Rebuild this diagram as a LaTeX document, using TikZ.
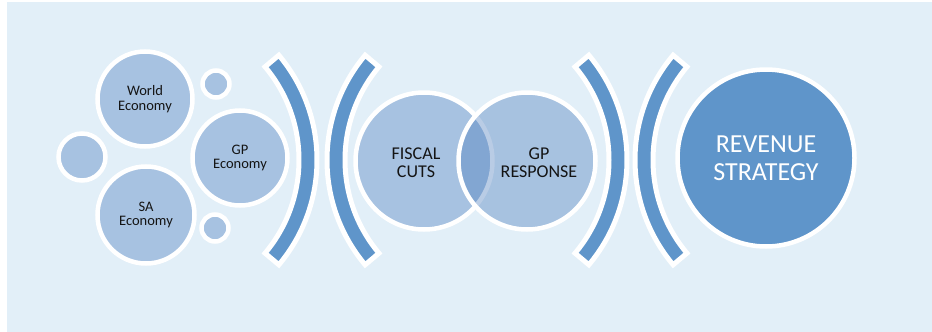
\documentclass[tikz,border=0pt]{standalone}
\usepackage{fontspec}
\setmainfont{Carlito}
\begin{document}
\definecolor{panelbg}{RGB}{226,239,248}
\definecolor{bubble}{RGB}{167,194,225}
\definecolor{bubbledeep}{RGB}{71,121,187}
\definecolor{accent}{RGB}{95,149,202}
\definecolor{ink}{RGB}{20,20,20}
\begin{tikzpicture}[x=1pt,y=-1pt,
  bub/.style={circle,fill=bubble,draw=white,line width=4.5pt,inner sep=0pt},
  bigbub/.style={circle,fill=accent,draw=white,line width=4.5pt,inner sep=0pt},
  small/.style={text=ink,align=center,font=\fontsize{14.5}{14.5}\selectfont},
  mid/.style={text=ink,align=center,font=\fontsize{18}{18}\selectfont},
  big/.style={text=white,align=center,font=\fontsize{26}{28}\selectfont},
  band/.style={fill=accent,draw=white,line width=5pt,line join=miter}]
\useasboundingbox (0,0) rectangle (932,332);
\fill[panelbg] (7,2) rectangle (932,332);

% curved bracket bands: centre (#1,#2), angles #3 to #4, centre-line radius 154
\newcommand\bandarc[4]{%
  \path[band] ([shift={(#3:163)}]#1,#2) arc[start angle=#3,end angle=#4,radius=163]
    -- ([shift={(#4:145)}]#1,#2) arc[start angle=#4,end angle=#3,radius=145] -- cycle;}
\bandarc{154}{160}{-40}{40}
\bandarc{490}{160}{140}{220}
\bandarc{464}{160}{-40}{40}
\bandarc{798}{160}{140}{220}

% economy cluster
\node[bub,minimum size=95pt] (world) at (145,99) {};
\node[bub,minimum size=27pt] (dotA) at (216,84) {};
\node[bub,minimum size=47pt] (dotL) at (82,157) {};
\node[bub,minimum size=95pt] (gpe) at (240,158) {};
\node[bub,minimum size=97pt] (sa) at (146,215) {};
\node[bub,minimum size=27pt] (dotB) at (215,228) {};
\node[small] (worldtxt) at (world.center) {World\\Economy};
\node[small] (gpetxt) at (gpe.center) {GP\\Economy};
\node[small] (satxt) at (sa.center) {SA\\Economy};

% overlapping pair
\node[bub,minimum size=137pt] (fiscal) at (424,161) {};
\node[circle,fill=bubbledeep,fill opacity=0.38,draw=white,line width=4.5pt,
      inner sep=0pt,minimum size=137pt] (gpr) at (527,161) {};
\node[mid] (fiscaltxt) at ([xshift=-8pt,yshift=-2pt]fiscal.center) {FISCAL\\CUTS};
\node[mid] (gprtxt) at ([xshift=12pt,yshift=-2pt]gpr.center) {GP\\RESPONSE};

% outcome
\node[bigbub,minimum size=177pt] (rev) at (766,158) {};
\node[big] (revtxt) at (rev.center) {REVENUE\\STRATEGY};
\end{tikzpicture}
\end{document}
